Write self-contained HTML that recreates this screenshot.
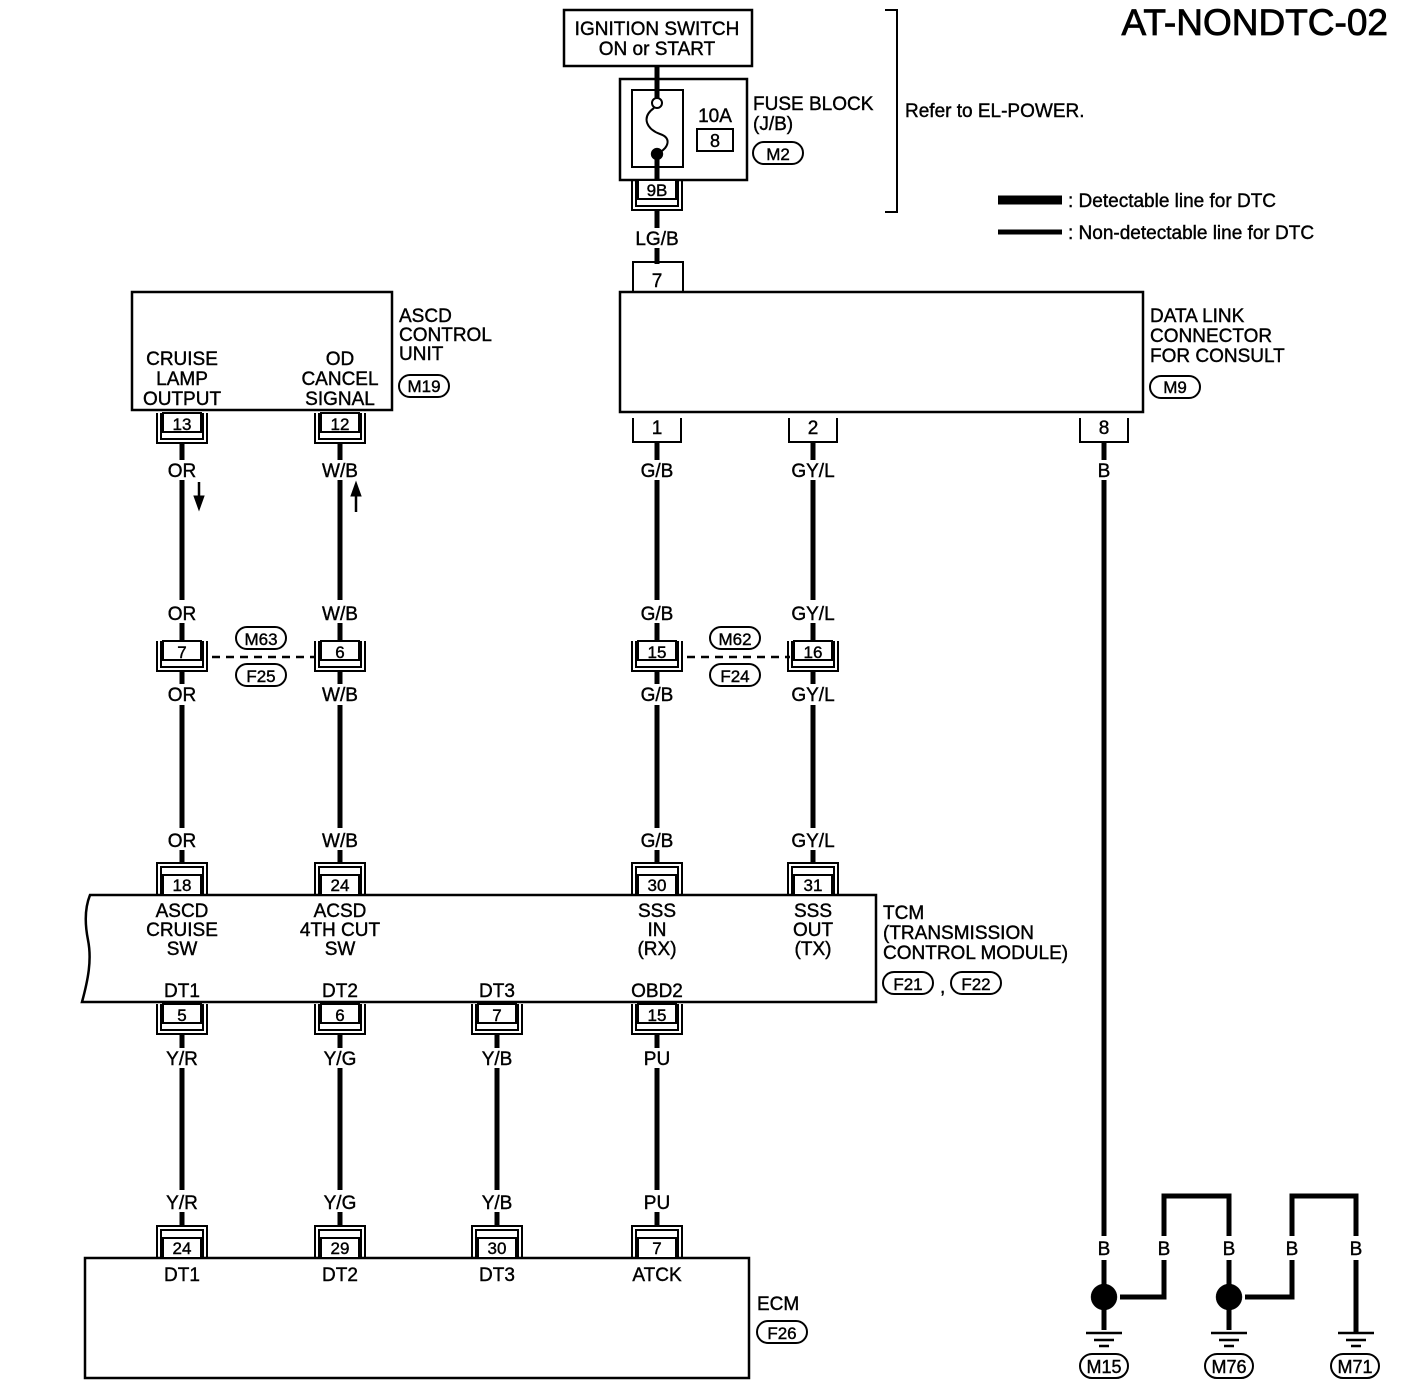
<!DOCTYPE html>
<html><head><meta charset="utf-8"><style>
html,body{margin:0;padding:0;background:#fff;}
svg{display:block;font-family:"Liberation Sans",Arial,sans-serif;font-size:19px;}
text{fill:#000;stroke:#000;}
</style></head><body>
<svg width="1408" height="1394" viewBox="0 0 1408 1394" xmlns="http://www.w3.org/2000/svg" stroke-width="0.4">
<defs>
<g id="ca" fill="none" stroke="#000" stroke-width="2">
  <rect x="-19" y="0" width="38" height="19" fill="#fff"/>
  <path d="M-25 0V30H25V0"/>
  <path d="M-21 0V26H21V0"/>
</g>
<g id="cb" fill="none" stroke="#000" stroke-width="2">
  <rect x="-19" y="-20" width="38" height="20" fill="#fff"/>
  <path d="M-25 0V-32H25V0"/>
  <path d="M-21 0V-28H21V0"/>
</g>
<g id="cs" fill="none" stroke="#000" stroke-width="2">
  <path d="M-24 0V24H24V0"/>
</g>
</defs>
<g fill="none" stroke="#000">
<rect x="564" y="10" width="188" height="56" stroke-width="2.5"/>
<line x1="657" y1="66" x2="657" y2="100" stroke-width="5"/>
<rect x="620" y="79" width="127" height="101" stroke-width="2.5"/>
<rect x="632" y="90" width="51" height="77" stroke-width="2"/>
<circle cx="657" cy="103" r="5" stroke-width="2" fill="#fff"/>
<path d="M654 108 C640 118 648 130 660 134 C672 138 668 148 660 152" stroke-width="2"/>
<circle cx="657" cy="154" r="6" fill="#000"/>
<line x1="657" y1="156" x2="657" y2="180" stroke-width="5"/>
<rect x="697" y="129" width="36" height="22" stroke-width="2"/>
<rect x="753" y="142" width="50" height="22" rx="11" stroke-width="2"/>
<line x1="657" y1="211" x2="657" y2="228" stroke-width="5"/>
<line x1="657" y1="248" x2="657" y2="264" stroke-width="5"/>
<path d="M633 292V262H683V292" stroke-width="2"/>
<path d="M885 10H897V212H885" stroke-width="2"/>
<line x1="998" y1="200" x2="1062" y2="200" stroke-width="9"/>
<line x1="998" y1="232" x2="1062" y2="232" stroke-width="5"/>
<rect x="620" y="292" width="523" height="120" stroke-width="2.5"/>
<rect x="1150" y="376" width="50" height="22" rx="11" stroke-width="2"/>
<rect x="132" y="292" width="260" height="118" stroke-width="2.5"/>
<rect x="399" y="375" width="50" height="22" rx="11" stroke-width="2"/>
<g stroke-width="5">
<line x1="182" y1="444" x2="182" y2="460"/><line x1="182" y1="480" x2="182" y2="600"/>
<line x1="340" y1="444" x2="340" y2="460"/><line x1="340" y1="480" x2="340" y2="600"/>
<line x1="657" y1="442" x2="657" y2="460"/><line x1="657" y1="480" x2="657" y2="600"/>
<line x1="813" y1="442" x2="813" y2="460"/><line x1="813" y1="480" x2="813" y2="600"/>
<line x1="1104" y1="442" x2="1104" y2="460"/><line x1="1104" y1="480" x2="1104" y2="1236"/>
<line x1="182" y1="623" x2="182" y2="641"/><line x1="340" y1="623" x2="340" y2="641"/>
<line x1="657" y1="623" x2="657" y2="641"/><line x1="813" y1="623" x2="813" y2="641"/>
<line x1="182" y1="671" x2="182" y2="684"/><line x1="340" y1="671" x2="340" y2="684"/>
<line x1="657" y1="671" x2="657" y2="684"/><line x1="813" y1="671" x2="813" y2="684"/>
<line x1="182" y1="705" x2="182" y2="828"/><line x1="340" y1="705" x2="340" y2="828"/>
<line x1="657" y1="705" x2="657" y2="828"/><line x1="813" y1="705" x2="813" y2="828"/>
<line x1="182" y1="850" x2="182" y2="863"/><line x1="340" y1="850" x2="340" y2="863"/>
<line x1="657" y1="850" x2="657" y2="863"/><line x1="813" y1="850" x2="813" y2="863"/>
<line x1="182" y1="1034" x2="182" y2="1048"/><line x1="340" y1="1034" x2="340" y2="1048"/>
<line x1="497" y1="1034" x2="497" y2="1048"/><line x1="657" y1="1034" x2="657" y2="1048"/>
<line x1="182" y1="1068" x2="182" y2="1190"/><line x1="340" y1="1068" x2="340" y2="1190"/>
<line x1="497" y1="1068" x2="497" y2="1190"/><line x1="657" y1="1068" x2="657" y2="1190"/>
<line x1="182" y1="1212" x2="182" y2="1226"/><line x1="340" y1="1212" x2="340" y2="1226"/>
<line x1="497" y1="1212" x2="497" y2="1226"/><line x1="657" y1="1212" x2="657" y2="1226"/>
</g>
<line x1="199" y1="482" x2="199" y2="498" stroke-width="2.5"/>
<path d="M194 496H204L199 510Z" fill="#000" stroke-width="1"/>
<line x1="356" y1="494" x2="356" y2="512" stroke-width="2.5"/>
<path d="M351 496H361L356 482Z" fill="#000" stroke-width="1"/>
<line x1="212" y1="657" x2="316" y2="657" stroke-width="2.5" stroke-dasharray="8,6"/>
<line x1="687" y1="657" x2="790" y2="657" stroke-width="2.5" stroke-dasharray="8,6"/>
<rect x="236" y="627" width="50" height="22" rx="11" stroke-width="2"/>
<rect x="236" y="664" width="50" height="22" rx="11" stroke-width="2"/>
<rect x="710" y="627" width="50" height="22" rx="11" stroke-width="2"/>
<rect x="710" y="664" width="50" height="22" rx="11" stroke-width="2"/>
<path d="M90 895H876V1002H82C88 980 92 960 88 940C84 920 86 905 90 895Z" stroke-width="2.5"/>
<rect x="883" y="972" width="50" height="22" rx="11" stroke-width="2"/>
<rect x="951" y="972" width="50" height="22" rx="11" stroke-width="2"/>
<rect x="85" y="1258" width="664" height="120" stroke-width="2.5"/>
<rect x="757" y="1321" width="50" height="22" rx="11" stroke-width="2"/>
<g stroke-width="5">
<line x1="1104" y1="1260" x2="1104" y2="1330"/>
<path d="M1164 1236V1196H1229V1236"/>
<path d="M1120 1297H1164V1260"/>
<line x1="1229" y1="1260" x2="1229" y2="1330"/>
<path d="M1292 1236V1196H1356V1236"/>
<path d="M1245 1297H1292V1260"/>
<line x1="1356" y1="1260" x2="1356" y2="1333"/>
</g>
<circle cx="1104" cy="1297" r="13" fill="#000"/>
<circle cx="1229" cy="1297" r="13" fill="#000"/>
<g stroke-width="2.5">
<line x1="1086" y1="1333" x2="1122" y2="1333"/><line x1="1094" y1="1340" x2="1114" y2="1340"/><line x1="1099" y1="1346" x2="1109" y2="1346"/>
<line x1="1211" y1="1333" x2="1247" y2="1333"/><line x1="1219" y1="1340" x2="1239" y2="1340"/><line x1="1224" y1="1346" x2="1234" y2="1346"/>
<line x1="1338" y1="1333" x2="1374" y2="1333"/><line x1="1346" y1="1340" x2="1366" y2="1340"/><line x1="1351" y1="1346" x2="1361" y2="1346"/>
</g>
<rect x="1080" y="1354" width="48" height="24" rx="12" stroke-width="2"/>
<rect x="1205" y="1354" width="48" height="24" rx="12" stroke-width="2"/>
<rect x="1331" y="1354" width="48" height="24" rx="12" stroke-width="2"/>
</g>
<use href="#ca" x="657" y="180"/>
<use href="#ca" x="182" y="413"/>
<use href="#ca" x="340" y="413"/>
<use href="#cs" x="657" y="418"/>
<use href="#cs" x="813" y="418"/>
<use href="#cs" x="1104" y="418"/>
<use href="#ca" x="182" y="641"/>
<use href="#ca" x="340" y="641"/>
<use href="#ca" x="657" y="641"/>
<use href="#ca" x="813" y="641"/>
<use href="#cb" x="182" y="895"/>
<use href="#cb" x="340" y="895"/>
<use href="#cb" x="657" y="895"/>
<use href="#cb" x="813" y="895"/>
<use href="#ca" x="182" y="1004"/>
<use href="#ca" x="340" y="1004"/>
<use href="#ca" x="497" y="1004"/>
<use href="#ca" x="657" y="1004"/>
<use href="#cb" x="182" y="1258"/>
<use href="#cb" x="340" y="1258"/>
<use href="#cb" x="497" y="1258"/>
<use href="#cb" x="657" y="1258"/>
<g text-anchor="middle">
<text x="657" y="35">IGNITION SWITCH</text>
<text x="657" y="55">ON or START</text>
<text x="715" y="122">10A</text>
<text x="715" y="147" font-size="18">8</text>
<text x="778" y="160" font-size="17">M2</text>
<text x="657" y="196" font-size="17">9B</text>
<text x="657" y="245">LG/B</text>
<text x="657" y="287">7</text>
<text x="182" y="365">CRUISE</text><text x="182" y="385">LAMP</text><text x="182" y="405">OUTPUT</text>
<text x="340" y="365">OD</text><text x="340" y="385">CANCEL</text><text x="340" y="405">SIGNAL</text>
<text x="424" y="392" font-size="17">M19</text>
<text x="1175" y="393" font-size="17">M9</text>
<text x="182" y="430" font-size="17">13</text><text x="340" y="430" font-size="17">12</text>
<text x="657" y="434">1</text><text x="813" y="434">2</text><text x="1104" y="434">8</text>
<text x="182" y="477">OR</text><text x="340" y="477">W/B</text><text x="657" y="477">G/B</text><text x="813" y="477">GY/L</text><text x="1104" y="477">B</text>
<text x="182" y="620">OR</text><text x="340" y="620">W/B</text><text x="657" y="620">G/B</text><text x="813" y="620">GY/L</text>
<text x="182" y="658" font-size="17">7</text><text x="340" y="658" font-size="17">6</text><text x="657" y="658" font-size="17">15</text><text x="813" y="658" font-size="17">16</text>
<text x="261" y="645" font-size="17">M63</text><text x="261" y="682" font-size="17">F25</text>
<text x="735" y="645" font-size="17">M62</text><text x="735" y="682" font-size="17">F24</text>
<text x="182" y="701">OR</text><text x="340" y="701">W/B</text><text x="657" y="701">G/B</text><text x="813" y="701">GY/L</text>
<text x="182" y="847">OR</text><text x="340" y="847">W/B</text><text x="657" y="847">G/B</text><text x="813" y="847">GY/L</text>
<text x="182" y="891" font-size="17">18</text><text x="340" y="891" font-size="17">24</text><text x="657" y="891" font-size="17">30</text><text x="813" y="891" font-size="17">31</text>
<text x="182" y="917">ASCD</text><text x="182" y="936">CRUISE</text><text x="182" y="955">SW</text>
<text x="340" y="917">ACSD</text><text x="340" y="936">4TH CUT</text><text x="340" y="955">SW</text>
<text x="657" y="917">SSS</text><text x="657" y="936">IN</text><text x="657" y="955">(RX)</text>
<text x="813" y="917">SSS</text><text x="813" y="936">OUT</text><text x="813" y="955">(TX)</text>
<text x="182" y="997">DT1</text><text x="340" y="997">DT2</text><text x="497" y="997">DT3</text><text x="657" y="997">OBD2</text>
<text x="908" y="990" font-size="17">F21</text><text x="976" y="990" font-size="17">F22</text>
<text x="182" y="1021" font-size="17">5</text><text x="340" y="1021" font-size="17">6</text><text x="497" y="1021" font-size="17">7</text><text x="657" y="1021" font-size="17">15</text>
<text x="182" y="1065">Y/R</text><text x="340" y="1065">Y/G</text><text x="497" y="1065">Y/B</text><text x="657" y="1065">PU</text>
<text x="182" y="1209">Y/R</text><text x="340" y="1209">Y/G</text><text x="497" y="1209">Y/B</text><text x="657" y="1209">PU</text>
<text x="182" y="1254" font-size="17">24</text><text x="340" y="1254" font-size="17">29</text><text x="497" y="1254" font-size="17">30</text><text x="657" y="1254" font-size="17">7</text>
<text x="182" y="1281">DT1</text><text x="340" y="1281">DT2</text><text x="497" y="1281">DT3</text><text x="657" y="1281">ATCK</text>
<text x="782" y="1339" font-size="17">F26</text>
<text x="1104" y="1255">B</text><text x="1164" y="1255">B</text><text x="1229" y="1255">B</text><text x="1292" y="1255">B</text><text x="1356" y="1255">B</text>
<text x="1104" y="1373" font-size="18">M15</text><text x="1229" y="1373" font-size="18">M76</text><text x="1355" y="1373" font-size="18">M71</text>
</g>
<text x="753" y="110">FUSE BLOCK</text>
<text x="753" y="130">(J/B)</text>
<text x="905" y="117">Refer to EL-POWER.</text>
<text x="1388" y="35" text-anchor="end" font-size="37" stroke-width="0.8">AT-NONDTC-02</text>
<text x="1068" y="207">: Detectable line for DTC</text>
<text x="1068" y="239">: Non-detectable line for DTC</text>
<text x="1150" y="322">DATA LINK</text><text x="1150" y="342">CONNECTOR</text><text x="1150" y="362">FOR CONSULT</text>
<text x="399" y="322">ASCD</text><text x="399" y="341">CONTROL</text><text x="399" y="360">UNIT</text>
<text x="883" y="919">TCM</text><text x="883" y="939">(TRANSMISSION</text><text x="883" y="959"> CONTROL MODULE)</text>
<text x="940" y="993">,</text>
<text x="757" y="1310">ECM</text>
</svg>
</body></html>
